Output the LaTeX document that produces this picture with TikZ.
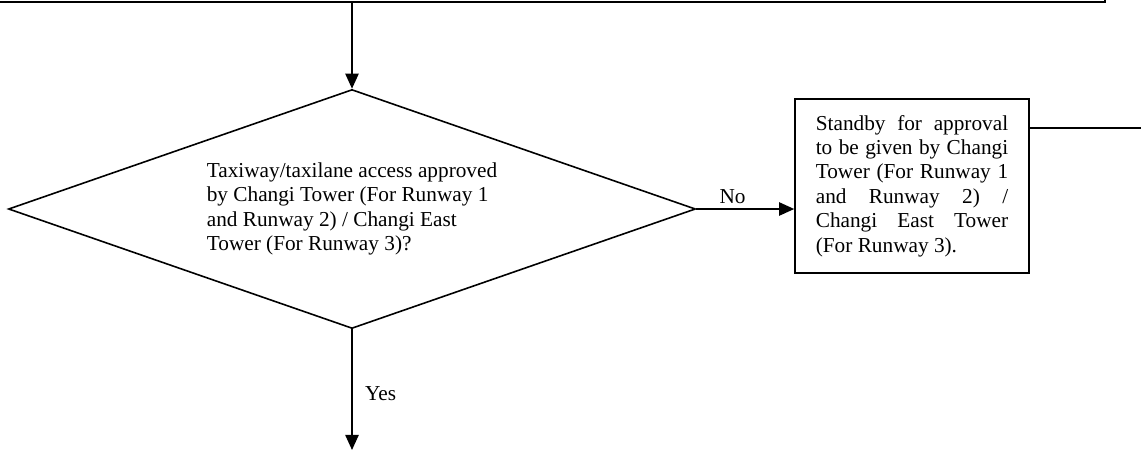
\documentclass[tikz,border=0pt]{standalone}
\usepackage{fontspec}
\setmainfont{Liberation Serif}
\usetikzlibrary{shapes.geometric,arrows.meta}
\tikzset{
	flow/.style={draw,line width=0.9pt},
	arr/.style={line width=0.9pt,-{Triangle[length=8.5pt,width=7.5pt]}}
}
\begin{document}
\begin{tikzpicture}[x=0.564pt,y=-0.564pt,font=\fontsize{12pt}{13.8pt}\selectfont]
	\useasboundingbox (0,0) rectangle (1141,450);
	\clip (0,0) rectangle (1141,450);
	\node[flow,rectangle,line width=1.2pt,minimum width=640pt,minimum height=40pt,anchor=south east] (prev) at (1106,3) {};
	\node[flow,diamond,aspect=2.87,minimum width=387.5pt,minimum height=134.8pt,inner sep=0,align=left] (ask) at (352,209) {Taxiway/taxilane access approved\\by Changi Tower (For Runway 1\\and Runway 2) / Changi East\\Tower (For Runway 3)?};
	\node[flow,rectangle,minimum width=132pt,minimum height=98.1pt,text width=108.5pt,align=justify,inner sep=0] (wait) at (912,186) {Standby for approval\linebreak to be given by Changi\linebreak Tower (For Runway 1\linebreak and Runway 2) /\linebreak Changi East Tower\linebreak (For Runway 3).};
	\coordinate (out) at (1150,128);
	\coordinate (next) at (352,450);
	\draw[arr] (prev.south -| ask.north) -- (ask.north);
	\draw[arr] (ask.east) -- node[above,pos=0.37,inner sep=2.5pt] {No} (ask.east -| wait.west);
	\draw[arr] (ask.south) -- node[right=7pt,inner sep=0,pos=0.53] {Yes} (next);
	\draw[line width=0.9pt] (wait.east |- out) -- (out);
\end{tikzpicture}
\end{document}
